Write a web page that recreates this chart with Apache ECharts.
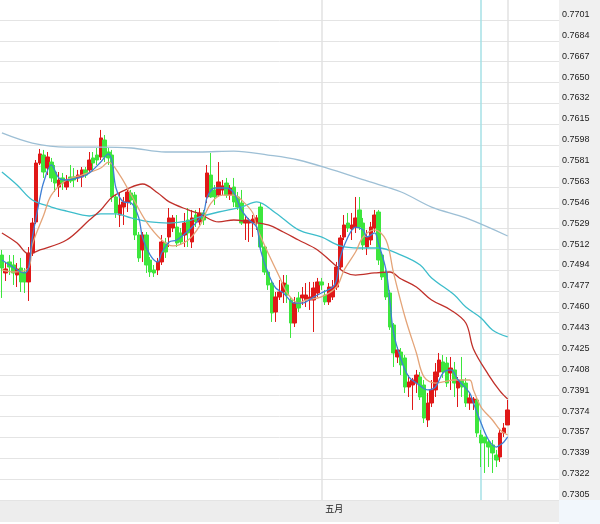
<!DOCTYPE html>
<html><head><meta charset="utf-8">
<script src="https://cdn.jsdelivr.net/npm/echarts@6/dist/echarts.min.js"></script>
<style>html,body{margin:0;padding:0;background:#fff;}#c{width:600px;height:524px;}</style>
</head><body><div id="c"></div>
<script>
// ---- data ----
const categoryCount = 147;
const categories = Array.from({length: categoryCount}, (_, i) => 'K' + (i + 1));
const monthIndex = 84;
const monthLabel = '五月';
const tickLabels = ['0.7305','0.7322','0.7339','0.7357','0.7374','0.7391','0.7408','0.7425','0.7443','0.7460','0.7477','0.7494',
  '0.7512','0.7529','0.7546','0.7563','0.7581','0.7598','0.7615','0.7632','0.7650','0.7667','0.7684','0.7701'];
const yMin = 0.7305, yMax = 0.77175, yStep = 0.0017218;

const opens = [0.75071,0.74923,0.75014,0.74989,0.74906,0.74964,0.74931,0.74849,0.75088,0.75344,
0.75830,0.75896,0.75789,0.75838,0.75756,0.75632,0.75707,0.75632,0.75715,0.75715,
0.75707,0.75715,0.75773,0.75773,0.75872,0.75896,0.75880,0.76020,0.75921,0.75896,
0.75550,0.75401,0.75467,0.75509,0.75583,0.75566,0.75236,0.75113,0.75236,0.75030,
0.74948,0.74948,0.75014,0.75170,0.75220,0.75294,0.75302,0.75253,0.75236,0.75360,
0.75179,0.75401,0.75344,0.75418,0.75550,0.75731,0.75608,0.75566,0.75608,0.75665,
0.75566,0.75632,0.75550,0.75500,0.75335,0.75335,0.75335,0.75344,0.75467,0.75137,
0.74931,0.74840,0.74601,0.74725,0.74766,0.74824,0.74700,0.74510,0.74717,0.74717,
0.74700,0.74700,0.74700,0.74758,0.74849,0.74741,0.74684,0.74725,0.74807,0.74972,
0.75220,0.75335,0.75286,0.75302,0.75443,0.75335,0.75137,0.75195,0.75294,0.75426,
0.75071,0.74923,0.74758,0.74494,0.74230,0.74271,0.74222,0.73982,0.73999,0.74015,
0.74065,0.73999,0.73710,0.73850,0.73958,0.74106,0.74189,0.74180,0.74098,0.74123,
0.73974,0.74040,0.74015,0.73850,0.73850,0.73875,0.73586,0.73570,0.73529,0.73504,
0.73421,0.73405,0.73603,0.73669];
const closes = [0.74964,0.74956,0.74972,0.74923,0.74956,0.74849,0.74849,0.75088,0.75335,0.75830,
0.75905,0.75756,0.75880,0.75707,0.75665,0.75690,0.75665,0.75690,0.75682,0.75690,
0.75731,0.75773,0.75731,0.75855,0.75830,0.75855,0.76037,0.75880,0.75872,0.75550,
0.75418,0.75484,0.75509,0.75591,0.75525,0.75236,0.75047,0.75236,0.74989,0.74931,
0.74923,0.75014,0.75179,0.75096,0.75377,0.75377,0.75170,0.75179,0.75335,0.75253,
0.75377,0.75344,0.75418,0.75360,0.75748,0.75550,0.75550,0.75674,0.75641,0.75566,
0.75624,0.75509,0.75467,0.75335,0.75360,0.75360,0.75368,0.75377,0.75137,0.74931,
0.74824,0.74593,0.74725,0.74766,0.74840,0.74741,0.74510,0.74675,0.74634,0.74741,
0.74741,0.74725,0.74799,0.74849,0.74824,0.74684,0.74807,0.74807,0.74972,0.75212,
0.75319,0.75294,0.75319,0.75377,0.75302,0.75154,0.75220,0.75302,0.75401,0.75030,
0.74890,0.74725,0.74477,0.74263,0.74288,0.74164,0.73982,0.74024,0.74040,0.74081,
0.73900,0.73726,0.73850,0.73958,0.74106,0.74205,0.74106,0.74015,0.74139,0.74015,
0.74040,0.73982,0.73850,0.73892,0.73883,0.73603,0.73520,0.73520,0.73487,0.73438,
0.73380,0.73603,0.73644,0.73793];
const lows = [0.74717,0.74857,0.74906,0.74824,0.74807,0.74766,0.74758,0.74692,0.75063,0.75327,
0.75814,0.75707,0.75731,0.75674,0.75591,0.75550,0.75608,0.75608,0.75665,0.75632,
0.75674,0.75632,0.75707,0.75756,0.75756,0.75814,0.75855,0.75838,0.75814,0.75509,
0.75377,0.75302,0.75319,0.75426,0.75484,0.75195,0.75014,0.75014,0.74923,0.74890,
0.74890,0.74906,0.74989,0.75047,0.75137,0.75261,0.75137,0.75154,0.75137,0.75137,
0.75129,0.75302,0.75319,0.75319,0.75500,0.75542,0.75484,0.75550,0.75566,0.75542,
0.75525,0.75467,0.75443,0.75319,0.75195,0.75179,0.75220,0.75278,0.75113,0.74906,
0.74783,0.74519,0.74519,0.74700,0.74675,0.74675,0.74387,0.74477,0.74601,0.74659,
0.74642,0.74618,0.74436,0.74725,0.74783,0.74659,0.74659,0.74700,0.74783,0.74948,
0.75195,0.75261,0.75195,0.75253,0.75278,0.75113,0.75071,0.75154,0.75261,0.74989,
0.74865,0.74700,0.74453,0.74147,0.74180,0.74081,0.73933,0.73900,0.73793,0.73933,
0.73875,0.73685,0.73652,0.73817,0.73900,0.74065,0.74057,0.73982,0.73958,0.73900,
0.73817,0.73900,0.73817,0.73793,0.73793,0.73570,0.73322,0.73273,0.73322,0.73273,
0.73322,0.73364,0.73570,0.73669];
const highs = [0.75113,0.75005,0.75071,0.75071,0.75005,0.75047,0.74964,0.75137,0.75377,0.75855,
0.75946,0.75938,0.75921,0.75872,0.75814,0.75756,0.75748,0.75731,0.75814,0.75789,
0.75773,0.75797,0.75797,0.75921,0.75921,0.75954,0.76103,0.76061,0.75954,0.75938,
0.75566,0.75591,0.75550,0.75608,0.75608,0.75591,0.75261,0.75261,0.75261,0.75055,
0.74989,0.75047,0.75236,0.75212,0.75459,0.75401,0.75401,0.75294,0.75418,0.75459,
0.75443,0.75443,0.75459,0.75443,0.75814,0.75913,0.75649,0.75838,0.75690,0.75707,
0.75649,0.75707,0.75591,0.75608,0.75401,0.75377,0.75401,0.75401,0.75500,0.75154,
0.74948,0.74865,0.74766,0.74865,0.74906,0.74906,0.74725,0.74725,0.74766,0.74807,
0.74840,0.74849,0.74849,0.74882,0.74882,0.74783,0.74840,0.74865,0.75014,0.75236,
0.75401,0.75418,0.75418,0.75550,0.75550,0.75377,0.75278,0.75344,0.75443,0.75443,
0.75096,0.74948,0.74783,0.74510,0.74313,0.74304,0.74246,0.74081,0.74057,0.74123,
0.74106,0.74040,0.73933,0.74040,0.74180,0.74263,0.74246,0.74230,0.74230,0.74189,
0.74065,0.74230,0.74057,0.73933,0.73900,0.73892,0.73628,0.73570,0.73545,0.73545,
0.73463,0.73628,0.73685,0.73875];

// moving-average readings: [candle index, value]
const maBlue = [[0,0.75030],[2,0.74989],[5,0.74931],[6,0.74923],[7,0.74964],[8,0.75212],[10,0.75542],[11,0.75674],[13,0.75814],[15,0.75707],[17,0.75690],[21,0.75715],[23,0.75748],[26,0.75838],[28,0.75905],[29,0.75838],[30,0.75624],[32,0.75509],[34,0.75500],[36,0.75377],[37,0.75212],[39,0.75071],[41,0.75014],[42,0.75088],[44,0.75179],[46,0.75195],[50,0.75302],[53,0.75418],[54,0.75550],[56,0.75624],[59,0.75624],[61,0.75583],[63,0.75443],[65,0.75360],[67,0.75302],[68,0.75113],[70,0.74923],[72,0.74799],[74,0.74758],[77,0.74675],[79,0.74675],[82,0.74725],[84,0.74758],[87,0.74807],[88,0.74865],[89,0.75055],[91,0.75220],[93,0.75302],[95,0.75278],[96,0.75220],[98,0.75253],[99,0.75170],[101,0.74948],[102,0.74700],[103,0.74428],[105,0.74205],[107,0.74065],[109,0.74015],[112,0.73958],[114,0.73982],[116,0.74098],[118,0.74123],[120,0.74040],[123,0.73933],[124,0.73850],[126,0.73685],[128,0.73545],[130,0.73487],[131,0.73504],[132,0.73529],[133,0.73570]];
const maTan = [[0,0.74948],[3,0.74931],[7,0.74964],[8,0.75154],[11,0.75401],[13,0.75566],[17,0.75690],[21,0.75731],[26,0.75789],[28,0.75838],[31,0.75731],[34,0.75566],[38,0.75344],[42,0.75195],[45,0.75146],[49,0.75195],[52,0.75311],[55,0.75500],[58,0.75566],[61,0.75566],[63,0.75525],[66,0.75418],[67,0.75302],[70,0.75088],[73,0.74890],[75,0.74758],[78,0.74675],[80,0.74700],[84,0.74725],[88,0.74807],[90,0.74948],[93,0.75096],[95,0.75220],[98,0.75278],[101,0.75195],[103,0.74923],[106,0.74560],[109,0.74263],[111,0.74065],[114,0.74015],[116,0.74024],[119,0.74040],[123,0.74040],[124,0.73958],[126,0.73817],[129,0.73710],[131,0.73628],[133,0.73586]];
const maRed = [[0,0.75253],[4,0.75170],[7,0.75080],[10,0.75113],[17,0.75195],[23,0.75360],[26,0.75443],[29,0.75550],[33,0.75616],[37,0.75657],[41,0.75583],[44,0.75509],[49,0.75443],[52,0.75410],[57,0.75344],[61,0.75360],[65,0.75344],[70,0.75319],[74,0.75261],[78,0.75195],[83,0.75113],[87,0.75005],[90,0.74931],[93,0.74906],[98,0.74923],[102,0.74931],[105,0.74873],[109,0.74807],[113,0.74700],[118,0.74618],[122,0.74510],[124,0.74296],[128,0.74081],[131,0.73949],[133,0.73883]];
const maCyan = [[0,0.75756],[4,0.75649],[8,0.75525],[13,0.75467],[17,0.75434],[23,0.75393],[26,0.75410],[30,0.75410],[34,0.75377],[39,0.75344],[44,0.75335],[49,0.75352],[52,0.75385],[57,0.75426],[63,0.75467],[67,0.75509],[72,0.75418],[78,0.75278],[84,0.75220],[89,0.75146],[94,0.75129],[99,0.75129],[105,0.75071],[110,0.74989],[113,0.74882],[119,0.74741],[122,0.74642],[126,0.74552],[129,0.74453],[133,0.74395]];
const maSteel = [[0,0.76078],[8,0.75995],[17,0.75962],[26,0.75962],[34,0.75954],[43,0.75921],[52,0.75921],[61,0.75929],[70,0.75896],[78,0.75855],[87,0.75773],[96,0.75682],[105,0.75591],[113,0.75467],[122,0.75377],[133,0.75228]];
const markerIndex = [monthIndex, 126, 133];

// ---- chart ----
const candles = opens.map((o, i) => [o, closes[i], lows[i], highs[i]]);
const chart = echarts.init(document.getElementById('c'), null, {renderer: 'canvas'});
function maSeries(name, data, color, z) {
  return {name, type: 'line', data, showSymbol: false, smooth: 0.35, z, silent: true,
    lineStyle: {color, width: 1.3}, itemStyle: {color}};
}
chart.setOption({
  animation: false,
  backgroundColor: '#ffffff',
  grid: {left: 0, right: 41, top: 0, bottom: 24},
  graphic: [
    {type: 'rect', z: -10, shape: {x: 559, y: 0, width: 41, height: 500}, style: {fill: '#f0f0f0'}},
    {type: 'rect', z: -10, shape: {x: 0, y: 500, width: 559, height: 22}, style: {fill: '#ededed'}},
    {type: 'rect', z: -10, shape: {x: 559, y: 500, width: 41, height: 24}, style: {fill: '#f2f7fc'}}
  ],
  xAxis: {
    type: 'category', data: categories, boundaryGap: true,
    axisLine: {show: false}, axisTick: {show: false}, splitLine: {show: false},
    axisLabel: {
      interval: (i) => i === monthIndex,
      formatter: (v, i) => i === monthIndex ? monthLabel : '',
      align: 'left', padding: [0, 0, 0, 4], margin: 4,
      fontFamily: 'Noto Sans CJK SC', fontSize: 9, color: '#222'
    }
  },
  yAxis: {
    type: 'value', position: 'right', min: yMin, max: yMax, interval: yStep,
    axisLine: {show: false}, axisTick: {show: false},
    axisLabel: {
      showMinLabel: true, showMaxLabel: false, margin: 3, align: 'left', verticalAlign: 'bottom',
      padding: [0, 0, 1, 0],
      fontFamily: 'Liberation Sans', fontSize: 9, color: '#222',
      formatter: (v) => {
        const k = Math.round((v - yMin) / yStep);
        return (k >= 0 && k < tickLabels.length && Math.abs(v - (yMin + k * yStep)) < yStep * 0.02) ? tickLabels[k] : '';
      }
    },
    splitLine: {show: true, showMaxLine: false, lineStyle: {color: '#e4e4e4', width: 1}}
  },
  series: [
    {
      type: 'candlestick', data: candles, barWidth: 4, z: 3, silent: true,
      itemStyle: {color: '#e01818', color0: '#3de63d', borderColor: '#e01818', borderColor0: '#3de63d', borderWidth: 1},
      markLine: {
        silent: true, symbol: ['none', 'none'], z: 1, label: {show: false},
        data: markerIndex.map((idx, j) => ({xAxis: categories[idx],
          lineStyle: {color: j === 1 ? '#a6e0e6' : '#e2e2e2', width: 1.5, type: 'solid'}}))
      }
    },
    maSeries('steel', maSteel, '#9dbfd5', 4),
    maSeries('cyan', maCyan, '#3dbdcb', 4),
    maSeries('red', maRed, '#c0302a', 4),
    maSeries('tan', maTan, '#e4a478', 5),
    maSeries('blue', maBlue, '#3d7fd6', 6)
  ]
});
</script></body></html>
